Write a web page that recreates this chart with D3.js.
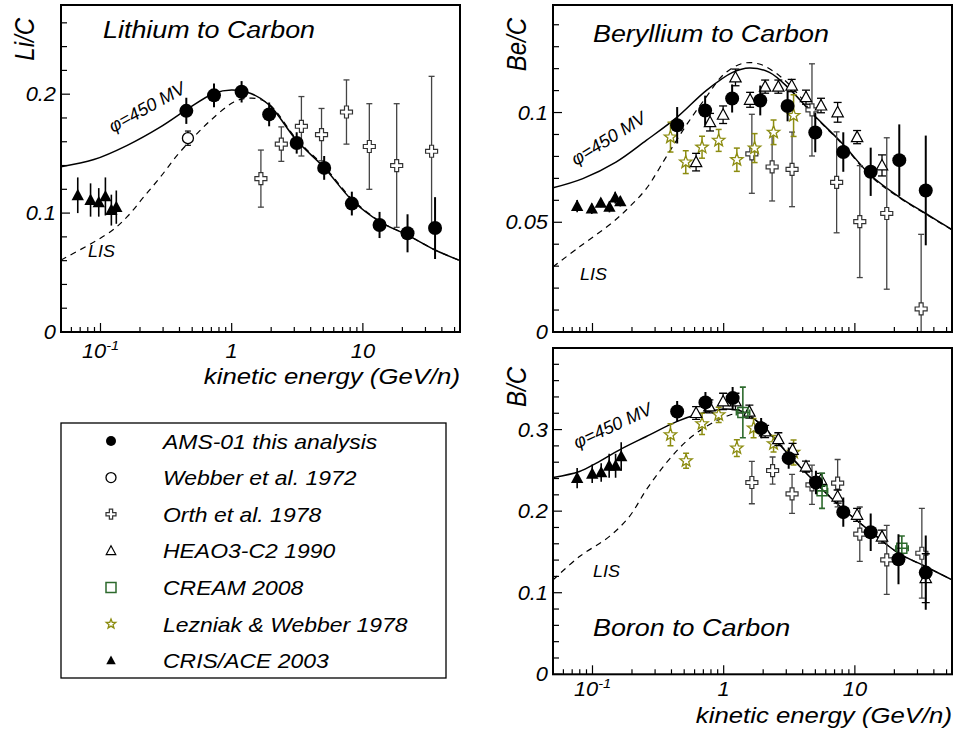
<!DOCTYPE html>
<html>
<head>
<meta charset="utf-8">
<script src="https://cdn.jsdelivr.net/npm/d3@7"></script>
<style>
body { margin: 0; background: #fff; }
text { font-family: "Liberation Sans", Arial, sans-serif; font-style: italic; fill: #000; }
</style>
</head>
<body>
<div id="chart"></div>
<script>
var width = 959;
var height = 737;
var stretch = 1.12; // text in the picture is a bit wider than tall

// ---- model curves [E (GeV/n), ratio] ----
var liPhi = [[0.05,0.139],[0.089,0.145],[0.16,0.157],[0.287,0.1725],[0.448,0.1866],[0.729,0.2006],[1.0,0.2035],[1.40,0.2006],[1.93,0.191],[3.13,0.161],[5.1,0.138],[8.24,0.111],[13.5,0.0927],[21.9,0.0815],[35.5,0.069],[55,0.060]];
var liLis = [[0.05,0.0605],[0.119,0.0843],[0.16,0.097],[0.214,0.1137],[0.287,0.1305],[0.385,0.1487],[0.515,0.164],[0.691,0.178],[1.04,0.1935],[1.28,0.1964],[1.6,0.196],[2.0,0.19],[3.13,0.162],[5.1,0.139],[8.24,0.112],[13.5,0.093],[21.9,0.0815],[35.5,0.069],[55,0.060]];
var bePhi = [[0.05,0.0657],[0.0844,0.0699],[0.151,0.0774],[0.257,0.0873],[0.442,0.0979],[0.735,0.11],[1.17,0.1183],[1.57,0.1203],[2.23,0.1183],[3.17,0.1108],[4.76,0.0994],[8.05,0.0858],[13.2,0.0714],[21.8,0.0615],[34.7,0.054],[55,0.0467]];
var beLis = [[0.05,0.0297],[0.0796,0.0388],[0.143,0.0501],[0.191,0.057],[0.257,0.0653],[0.364,0.0797],[0.517,0.0941],[0.735,0.107],[1.01,0.1176],[1.4,0.1224],[1.87,0.1221],[2.66,0.1168],[3.77,0.1077],[4.76,0.0994],[8.05,0.0855],[13.2,0.071],[21.8,0.0612],[34.7,0.0537],[55,0.0465]];
var bPhi = [[0.05,0.2412],[0.0796,0.2486],[0.107,0.2589],[0.161,0.2752],[0.257,0.2915],[0.442,0.31],[0.616,0.3181],[1.01,0.3251],[1.4,0.3218],[1.93,0.3059],[3.13,0.2691],[5.05,0.2343],[8.16,0.2024],[13.2,0.175],[21.5,0.1485],[34.7,0.132],[55,0.1157]];
var bLis = [[0.05,0.1157],[0.0796,0.1443],[0.134,0.1688],[0.191,0.1934],[0.257,0.2261],[0.364,0.2589],[0.517,0.2854],[0.735,0.3038],[1.04,0.3161],[1.4,0.3202],[1.93,0.306],[3.13,0.27],[5.05,0.235],[8.16,0.2025],[13.2,0.175],[21.5,0.1485],[34.7,0.132],[55,0.1157]];

// ---- measurements [E, ratio, error] ----
var liAms = [[0.451,0.186,0.011],[0.733,0.199,0.010],[1.19,0.202,0.009],[1.93,0.183,0.010],[3.13,0.159,0.009],[5.07,0.138,0.010],[8.24,0.108,0.010],[13.4,0.090,0.011],[21.9,0.083,0.016],[35.5,0.0874,0.026]];
var liWebber = [[0.464,0.163,0.006]];
var liOrth = [[1.67,0.129,0.024],[2.39,0.158,0.0145],[3.40,0.173,0.025],[4.84,0.166,0.022],[7.5,0.185,0.027],[11.2,0.156,0.036],[18.1,0.140,0.052],[33.4,0.152,0.063]];
var liCris = [[0.0671,0.115,0.015],[0.084,0.111,0.014],[0.097,0.109,0.012],[0.109,0.114,0.016],[0.121,0.1025,0.013],[0.132,0.105,0.014]];

var beAms = [[0.442,0.0942,0.0083],[0.722,0.1009,0.0068],[1.16,0.1064,0.0064],[1.9,0.1055,0.0068],[3.07,0.103,0.007],[4.99,0.0909,0.009],[8.16,0.082,0.009],[13.2,0.073,0.011],[21.8,0.0783,0.0163],[34.7,0.0645,0.025]];
var beHeao = [[0.616,0.0774,0.004],[0.787,0.0956,0.004],[0.99,0.099,0.004],[1.23,0.116,0.0038],[1.59,0.1058,0.0034],[2.07,0.1118,0.003],[2.61,0.1118,0.003],[3.3,0.1123,0.0028],[4.24,0.107,0.0032],[5.52,0.1032,0.0033],[7.39,0.1001,0.0045],[10.4,0.0888,0.003],[16.1,0.0759,0.0048]];
var beOrth = [[1.64,0.0812,0.018],[2.34,0.0752,0.0155],[3.32,0.0741,0.017],[4.71,0.1012,0.021],[7.26,0.0682,0.023],[10.9,0.0503,0.0255],[17.5,0.054,0.0345],[32,0.0105,0.034]];
var beLez = [[0.393,0.0888,0.0068],[0.514,0.0774,0.0052],[0.684,0.0842,0.005],[0.916,0.0873,0.005],[1.26,0.0785,0.0053],[1.72,0.0838,0.0066],[2.4,0.091,0.0056],[3.41,0.0986,0.0095]];
var beCris = [[0.0764,0.0574,0.0028],[0.0988,0.0562,0.0024],[0.1157,0.0588,0.002],[0.1346,0.057,0.0025],[0.149,0.0612,0.0027],[0.163,0.0595,0.0023]];

var bAms = [[0.442,0.3222,0.0129],[0.726,0.3333,0.0127],[1.17,0.3386,0.0135],[1.93,0.3018,0.0123],[3.13,0.265,0.013],[5.05,0.2351,0.0143],[8.16,0.1988,0.0178],[13.2,0.1742,0.023],[21.5,0.1411,0.0307],[34.7,0.1247,0.0456]];
var bHeao = [[0.616,0.3203,0.0078],[0.778,0.3284,0.008],[0.99,0.3345,0.01],[1.23,0.3345,0.01],[1.57,0.322,0.008],[2.07,0.2977,0.0075],[2.61,0.2883,0.0078],[3.35,0.2752,0.0078],[4.24,0.2547,0.0067],[5.52,0.2384,0.008],[7.39,0.2179,0.008],[10.4,0.1955,0.008],[16.1,0.1688,0.008],[34.7,0.1178,0.03]];
var bOrth = [[1.64,0.2351,0.026],[2.36,0.2498,0.0166],[3.32,0.2212,0.024],[4.71,0.2323,0.024],[7.39,0.2343,0.029],[10.9,0.1718,0.0333],[17.5,0.1402,0.0423],[32.4,0.1484,0.055]];
var bCream = [[1.4,0.321,0.031,1.25,1.58],[5.62,0.2249,0.0215,5.1,6.2],[22.8,0.1546,0.015,20.5,25.5]];
var bLez = [[0.393,0.2936,0.0135],[0.517,0.2617,0.0092],[0.684,0.3071,0.013],[0.916,0.3181,0.0094],[1.26,0.2773,0.0102],[1.69,0.3018,0.0117],[2.4,0.2826,0.0102],[3.41,0.272,0.0153]];
var bCris = [[0.0764,0.2405,0.0123],[0.0995,0.2458,0.0113],[0.1165,0.2474,0.0113],[0.134,0.2556,0.0147],[0.15,0.2556,0.0147],[0.1655,0.267,0.0174]];

// ---- tick labels ----
var xDomain = [0.05, 55];
var xTickVals = [0.1, 1, 10];
var xTickText = [["10","-1"], ["1",""], ["10",""]];
var liTicks = [0, 0.1, 0.2];
var beTicks = [0, 0.05, 0.1];
var bTicks = [0, 0.1, 0.2, 0.3];

var legendKeys = ["ams","webber","orth","heao","cream","lez","cris"];
var legendLabels = ["AMS-01 this analysis","Webber et al. 1972","Orth et al. 1978","HEAO3-C2 1990","CREAM 2008","Lezniak & Webber 1978","CRIS/ACE 2003"];

var styles = {
    ams:    {marker:"circle",   r:7,   fill:"#000", stroke:"none",    sw:0,   err:"#000",    ew:2,   cap:0},
    webber: {marker:"circle",   r:5.5, fill:"#fff", stroke:"#000",    sw:1.3, err:"#000",    ew:1.2, cap:3},
    orth:   {marker:"cross",    r:6,   fill:"#fff", stroke:"#333",    sw:1.2, err:"#444",    ew:1.3, cap:3},
    heao:   {marker:"triangle", r:6,   fill:"#fff", stroke:"#000",    sw:1.2, err:"#000",    ew:1.3, cap:4},
    cream:  {marker:"square",   r:5,   fill:"none", stroke:"#2d6a2d", sw:1.5, err:"#2d6a2d", ew:1.6, cap:3},
    lez:    {marker:"star",     r:6.5, fill:"#fff", stroke:"#8c8c10", sw:1.3, err:"#8c8c10", ew:1.5, cap:3},
    cris:   {marker:"triangle", r:6.5, fill:"#000", stroke:"none",    sw:0,   err:"#000",    ew:1.6, cap:0}
};

var panels = [
    {id:"li", box:[61,5,460,332], ymax:0.275, yStep:0.02, yLabels:liTicks, ytitle:"Li/C", ytitleX:34, ytitleY:18,
     title:"Lithium to Carbon", titleXY:[103,38], phi:[113,133,-29], lis:[88,257], curves:[liPhi, liLis],
     sets:[[liOrth,"orth"],[liWebber,"webber"],[liCris,"cris"],[liAms,"ams"]], xLabelY:358, xTitleY:384},
    {id:"be", box:[553,5,952,332], ymax:0.149, yStep:0.01, yLabels:beTicks, ytitle:"Be/C", ytitleX:526, ytitleY:18,
     title:"Beryllium to Carbon", titleXY:[593,42], phi:[576,166,-32], lis:[580,280], curves:[bePhi, beLis],
     sets:[[beOrth,"orth"],[beLez,"lez"],[beHeao,"heao"],[beCris,"cris"],[beAms,"ams"]], xLabelY:null, xTitleY:null},
    {id:"b", box:[553,348,952,674.3], ymax:0.4, yStep:0.02, yLabels:bTicks, ytitle:"B/C", ytitleX:526, ytitleY:367,
     title:"Boron to Carbon", titleXY:[593,636], phi:[577,449,-25], lis:[593,577], curves:[bPhi, bLis],
     sets:[[bOrth,"orth"],[bLez,"lez"],[bHeao,"heao"],[bCream,"cream"],[bCris,"cris"],[bAms,"ams"]], xLabelY:696, xTitleY:723}
];

var svg = d3.select("#chart")
            .append("svg")
            .attr("width", width)
            .attr("height", height);

function label(g, x, y, str, size, anchor, rot) {
    return g.append("text")
        .attr("transform", "translate(" + x + "," + y + ") scale(" + stretch + ",1)" + (rot ? " rotate(" + rot + ")" : ""))
        .attr("font-size", size)
        .attr("text-anchor", anchor || "start")
        .text(str);
}

function markerPath(type, r) {
    if (type === "circle") {
        return "M" + (-r) + ",0A" + r + "," + r + " 0 1,0 " + r + ",0A" + r + "," + r + " 0 1,0 " + (-r) + ",0Z";
    }
    if (type === "triangle") {
        return "M0," + (-r) + "L" + (r * 0.95) + "," + (r * 0.75) + "L" + (-r * 0.95) + "," + (r * 0.75) + "Z";
    }
    if (type === "square") {
        return "M" + (-r) + "," + (-r) + "H" + r + "V" + r + "H" + (-r) + "Z";
    }
    if (type === "cross") {
        var a = r * 0.33;
        return "M" + (-a) + "," + (-r) + "H" + a + "V" + (-a) + "H" + r + "V" + a + "H" + a + "V" + r +
               "H" + (-a) + "V" + a + "H" + (-r) + "V" + (-a) + "H" + (-a) + "Z";
    }
    // star
    var pts = [];
    for (var i = 0; i < 10; i++) {
        var ang = -Math.PI / 2 + i * Math.PI / 5;
        var rr = i % 2 === 0 ? r : r * 0.42;
        pts.push([rr * Math.cos(ang), rr * Math.sin(ang)]);
    }
    return "M" + pts.map(p => p[0].toFixed(2) + "," + p[1].toFixed(2)).join("L") + "Z";
}

function fmt(v) {
    return v === 0 ? "0" : String(+v.toFixed(3));
}

// minor ticks for the log axis
var xMinor = [];
[0.01, 0.1, 1, 10].forEach(dec => {
    for (var k = 1; k <= 9; k++) {
        var v = +(k * dec).toPrecision(3);
        if (v >= xDomain[0] && v <= xDomain[1]) xMinor.push(v);
    }
});

var lineGenerator = d3.line().curve(d3.curveCatmullRom);

panels.forEach(p => {
    var x0 = p.box[0], y0 = p.box[1], x1 = p.box[2], y1 = p.box[3];
    var x = d3.scaleLog().domain(xDomain).range([x0, x1]);
    var y = d3.scaleLinear().domain([0, p.ymax]).range([y1, y0]);
    var g = svg.append("g");

    svg.append("clipPath").attr("id", "clip-" + p.id)
        .append("rect").attr("x", x0).attr("y", y0).attr("width", x1 - x0).attr("height", y1 - y0);
    var plot = g.append("g").attr("clip-path", "url(#clip-" + p.id + ")");

    // curves: solid modulated, dashed LIS
    lineGenerator.x(d => x(d[0])).y(d => y(d[1]));
    plot.append("path").attr("d", lineGenerator(p.curves[0]))
        .attr("fill", "none").attr("stroke", "#000").attr("stroke-width", 1.5);
    plot.append("path").attr("d", lineGenerator(p.curves[1]))
        .attr("fill", "none").attr("stroke", "#000").attr("stroke-width", 1.2)
        .attr("stroke-dasharray", "6,5");

    // data sets
    p.sets.forEach(s => {
        var data = s[0], st = styles[s[1]];
        var sg = plot.append("g");
        data.forEach(d => {
            var cx = x(d[0]), cy = y(d[1]);
            var ylo = y(d[1] - d[2]), yhi = y(d[1] + d[2]);
            sg.append("line").attr("x1", cx).attr("x2", cx).attr("y1", ylo).attr("y2", yhi)
                .attr("stroke", st.err).attr("stroke-width", st.ew);
            if (st.cap > 0) {
                [ylo, yhi].forEach(yy => {
                    sg.append("line").attr("x1", cx - st.cap).attr("x2", cx + st.cap)
                        .attr("y1", yy).attr("y2", yy)
                        .attr("stroke", st.err).attr("stroke-width", st.ew);
                });
            }
            if (d.length > 3) {
                var xl = x(d[3]), xh = x(d[4]);
                sg.append("line").attr("x1", xl).attr("x2", xh).attr("y1", cy).attr("y2", cy)
                    .attr("stroke", st.err).attr("stroke-width", st.ew);
                [xl, xh].forEach(xx => {
                    sg.append("line").attr("x1", xx).attr("x2", xx).attr("y1", cy - st.cap).attr("y2", cy + st.cap)
                        .attr("stroke", st.err).attr("stroke-width", st.ew);
                });
            }
            sg.append("path").attr("d", markerPath(st.marker, st.r))
                .attr("transform", "translate(" + cx + "," + cy + ")")
                .attr("fill", st.fill).attr("stroke", st.stroke).attr("stroke-width", st.sw);
        });
    });

    // y ticks (inside)
    d3.range(0, p.ymax + 1e-9, p.yStep).forEach(v => {
        var isMajor = p.yLabels.some(l => Math.abs(l - v) < 1e-6);
        g.append("line").attr("x1", x0).attr("x2", x0 + (isMajor ? 9 : 6))
            .attr("y1", y(v)).attr("y2", y(v)).attr("stroke", "#000").attr("stroke-width", 1.2);
    });
    p.yLabels.forEach(v => {
        label(g, x0 - 5, y(v) + 7, fmt(v), 19.5, "end");
    });

    // x ticks (inside)
    xMinor.forEach(v => {
        var isMajor = xTickVals.some(t => Math.abs(t - v) < 1e-9);
        g.append("line").attr("x1", x(v)).attr("x2", x(v))
            .attr("y1", y1).attr("y2", y1 - (isMajor ? 9 : 5)).attr("stroke", "#000").attr("stroke-width", 1.2);
    });
    if (p.xLabelY) {
        xTickVals.forEach((v, i) => {
            var t = label(g, x(v), p.xLabelY, "", 19.5, "middle");
            t.append("tspan").text(xTickText[i][0]);
            if (xTickText[i][1]) {
                t.append("tspan").attr("dy", -8).attr("font-size", 13).text(xTickText[i][1]);
            }
        });
        label(g, x1, p.xTitleY, "kinetic energy (GeV/n)", 23, "end");
    }

    // frame
    g.append("rect").attr("x", x0).attr("y", y0).attr("width", x1 - x0).attr("height", y1 - y0)
        .attr("fill", "none").attr("stroke", "#000").attr("stroke-width", 2);

    // texts
    label(g, p.ytitleX, p.ytitleY, p.ytitle, 24, "end", -90);
    label(g, p.titleXY[0], p.titleXY[1], p.title, 24, "start");
    g.append("text")
        .attr("transform", "translate(" + p.phi[0] + "," + p.phi[1] + ") rotate(" + p.phi[2] + ")")
        .attr("font-size", 18).text("\u03c6=450 MV");
    label(g, p.lis[0], p.lis[1], "LIS", 16, "start");
});

// legend
var lg = svg.append("g");
lg.append("rect").attr("x", 61).attr("y", 423).attr("width", 385).attr("height", 255)
    .attr("fill", "#fff").attr("stroke", "#000").attr("stroke-width", 1.3);
legendKeys.forEach((k, i) => {
    var st = styles[k];
    var cy = 441 + i * 36.6;
    lg.append("path").attr("d", markerPath(st.marker, 5))
        .attr("transform", "translate(111," + cy + ")")
        .attr("fill", st.fill).attr("stroke", st.stroke)
        .attr("stroke-width", st.sw);
    label(lg, 163, cy + 7.5, legendLabels[i], 20.5, "start");
});
</script>
</body>
</html>
